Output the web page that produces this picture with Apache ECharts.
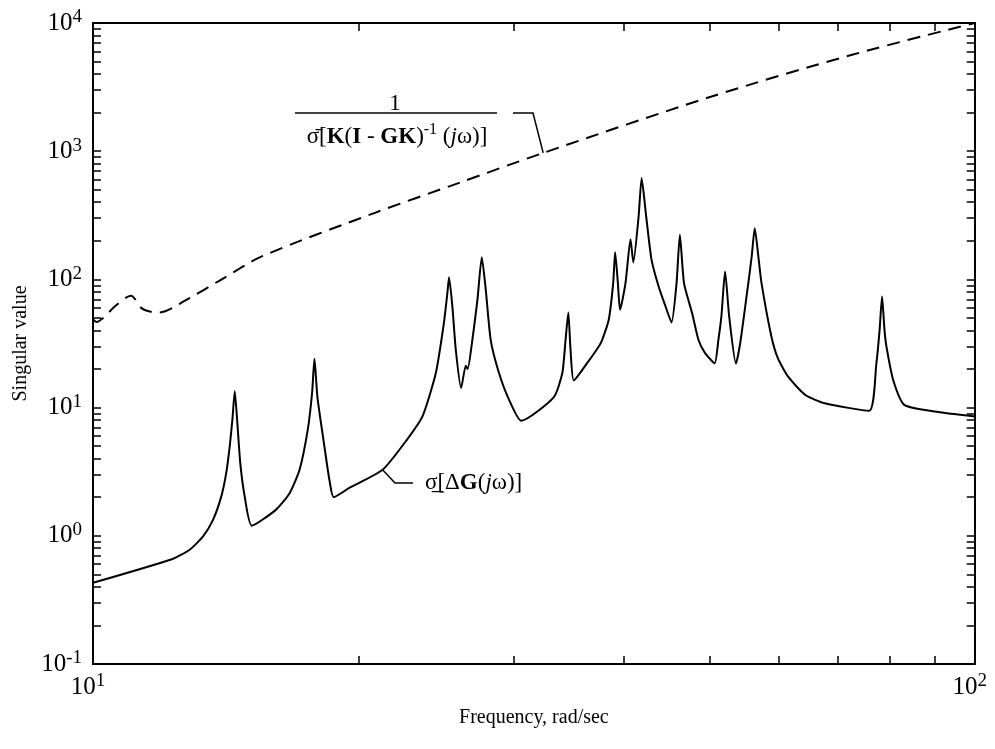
<!DOCTYPE html>
<html><head><meta charset="utf-8">
<script src="https://cdn.jsdelivr.net/npm/echarts@6/dist/echarts.min.js"></script>
<style>html,body{margin:0;padding:0;background:#fff}#c{width:995px;height:749px}</style>
</head><body><div id="c"></div>
<script>
// frequency (rad/sec) and singular value of lower solid curve
const solidFreq = [10, 12.31, 12.87, 13.33, 13.68, 13.98, 14.16, 14.29, 14.39, 14.48, 14.57, 14.69, 14.86, 15.14, 16.13, 16.71, 17.15, 17.52, 17.72, 17.83, 17.97, 18.3, 18.54, 18.75, 19.53, 21.3, 22.74, 23.64, 24.48, 25.0, 25.23, 25.34, 25.56, 25.79, 26.15, 26.47, 26.6, 26.93, 27.29, 27.6, 27.89, 28.25, 28.87, 29.64, 30.6, 33.3, 34.06, 34.35, 34.6, 34.8, 35.1, 36.3, 37.46, 37.8, 38.45, 38.9, 39.1, 39.38, 39.6, 40.17, 40.7, 41.0, 41.57, 41.9, 42.4, 43.0, 43.8, 44.6, 45.3, 45.9, 46.3, 46.8, 47.8, 48.6, 49.45, 50.7, 51.2, 51.6, 52.1, 52.66, 53.6, 54.2, 55.36, 55.85, 56.3, 56.83, 57.3, 58.8, 59.8, 61.4, 64.2, 67.6, 75.9, 77.35, 78.0, 78.5, 79.0, 79.4, 80.8, 83.2, 90.0, 100];
const solidVal  = [0.43, 0.66, 0.778, 0.99, 1.33, 2.03, 3.08, 4.97, 8.03, 13.4, 8.03, 3.69, 2.03, 1.20, 1.6, 2.15, 3.27, 6.7, 13, 24.0, 12, 4.97, 2.73, 2.0, 2.36, 3.27, 5.71, 8.53, 18.6, 45.6, 78.4, 104, 61.5, 28.2, 14.2, 21.2, 20.0, 33.8, 69.3, 149, 83, 33.8, 18.6, 11.5, 7.89, 12.0, 18.6, 33.8, 55.2, 28.2, 16.3, 22.0, 30.0, 33.8, 48.4, 93.6, 163, 93.6, 57.9, 93.6, 206, 135.6, 310, 617, 310, 142, 88, 61.5, 46.1, 93.6, 223, 93.6, 54.6, 33.8, 26.6, 22.2, 33.8, 51.4, 115, 51.4, 22.0, 31.8, 93.6, 151, 251, 151, 93.6, 35.9, 24.3, 17.5, 12.6, 10.8, 9.44, 22.2, 40.4, 73.6, 40.4, 30.0, 16.5, 10.5, 9.33, 8.53];
// upper dashed curve
const dashFreq = [10, 10.1, 10.25, 10.64, 11.04, 11.35, 11.6, 11.89, 12.76, 13.92, 15.54, 20.84, 25.97, 32.37, 50.3, 72.6, 100];
const dashVal  = [49, 46.5, 49.5, 63.4, 74.5, 59.7, 56.2, 55.2, 69.3, 98, 151, 329, 564, 967, 2672, 5650, 10000];
const xRange = [10, 100];
const yRange = [0.1, 10000];
const xLabelValues = [10, 100];
const yLabelValues = [0.1, 1, 10, 100, 1000, 10000];
const tickMultipliers = [1, 2, 3, 4, 5, 6, 7, 8, 9];

// tick positions at 1..9 x each decade
const decadeTicks = (decades, last) => {
  const out = [];
  decades.forEach(d => tickMultipliers.forEach(m => out.push(Number((m * d).toPrecision(3)))));
  out.push(last);
  return out;
};
const xTickValues = decadeTicks([10], 100);
const yTickValues = decadeTicks([0.1, 1, 10, 100, 1000], 10000);

const FONT = '"Liberation Serif","Times New Roman",serif';
const pairs = (a, b) => a.map((x, i) => [x, b[i]]);
const supLabel = v => '{b|10}{s|' + Math.round(Math.log10(v)) + '}';
const supLabelX = v => '{b|10}{s|' + Math.round(Math.log10(v)) + '}{p|}';
const rich = {
  b: {fontFamily: FONT, fontSize: 25, lineHeight: 30, color: '#000'},
  s: {fontFamily: FONT, fontSize: 19, lineHeight: 19, verticalAlign: 'top', color: '#000'},
  p: {width: 10}
};
function axis(extra, ticks) {
  return Object.assign({
    type: 'log', logBase: 10,
    axisLine: {show: true, lineStyle: {color: '#000', width: 2}},
    axisTick: {show: true, inside: true, length: 8, customValues: ticks, lineStyle: {color: '#000', width: 1.5}},
    minorTick: {show: false},
    splitLine: {show: false}, minorSplitLine: {show: false}
  }, extra);
}
const chart = echarts.init(document.getElementById('c'), null, {renderer: 'canvas'});
chart.setOption({
  animation: false,
  backgroundColor: '#fff',
  grid: {left: 93, right: 18, top: 23, bottom: 85, containLabel: false},
  xAxis: [
    axis({min: xRange[0], max: xRange[1], position: 'bottom',
      axisLabel: {formatter: supLabelX, rich: rich, margin: 8, customValues: xLabelValues},
      name: 'Frequency, rad/sec', nameLocation: 'middle', nameGap: 44,
      nameTextStyle: {fontFamily: FONT, fontSize: 20, color: '#000', verticalAlign: 'top'}}, xTickValues),
    axis({min: xRange[0], max: xRange[1], position: 'top', axisLabel: {show: false}}, xTickValues)
  ],
  yAxis: [
    axis({min: yRange[0], max: yRange[1], position: 'left',
      axisLabel: {formatter: supLabel, rich: rich, margin: 11, customValues: yLabelValues},
      name: 'Singular value', nameLocation: 'middle', nameGap: 60, nameRotate: 90,
      nameTextStyle: {fontFamily: FONT, fontSize: 20, color: '#000'}}, yTickValues),
    axis({min: yRange[0], max: yRange[1], position: 'right', axisLabel: {show: false}}, yTickValues)
  ],
  series: [
    {type: 'line', data: pairs(solidFreq, solidVal), symbol: 'none', smooth: 0.2,
     lineStyle: {color: '#000', width: 2}},
    {type: 'line', data: pairs(dashFreq, dashVal), symbol: 'none', smooth: 0.3,
     lineStyle: {color: '#000', width: 2, type: [13, 8]}}
  ]
});

// annotations
const dAnchor = chart.convertToPixel({xAxisIndex: 0, yAxisIndex: 0}, [32.4, 970]);
const sAnchor = chart.convertToPixel({xAxisIndex: 0, yAxisIndex: 0}, [21.3, 3.27]);
const dRich = {
  n: {fontFamily: FONT, fontSize: 23, lineHeight: 30, color: '#000'},
  b: {fontFamily: FONT, fontSize: 23, lineHeight: 30, fontWeight: 'bold', color: '#000'},
  i: {fontFamily: FONT, fontSize: 23, lineHeight: 30, fontStyle: 'italic', color: '#000'},
  s: {fontFamily: FONT, fontSize: 16, lineHeight: 18, verticalAlign: 'top', color: '#000'}
};
chart.setOption({
  graphic: [
    {type: 'text', style: {text: '1', x: 395, y: 104, align: 'center', verticalAlign: 'middle',
      font: '23px ' + FONT, fill: '#000'}},
    {type: 'line', shape: {x1: 295, y1: 113, x2: 497, y2: 113}, style: {stroke: '#000', lineWidth: 1.5}},
    {type: 'text', style: {text: '{n|\u03C3\u0304[}{b|K}{n|(}{b|I}{n| - }{b|GK}{n|)}{s|-1}{n| (}{i|j}{n|\u03C9)]}',
      x: 397, y: 137, align: 'center', verticalAlign: 'middle', rich: dRich}},
    {type: 'polyline', shape: {points: [[513, 113], [533, 113], [dAnchor[0], dAnchor[1]]]},
      style: {stroke: '#000', lineWidth: 1.5, fill: null}},
    {type: 'polyline', shape: {points: [[sAnchor[0], sAnchor[1]], [395, 483], [413, 483]]},
      style: {stroke: '#000', lineWidth: 1.5, fill: null}},
    {type: 'text', style: {text: '{n|\u03C3\u0332[\u0394}{b|G}{n|(}{i|j}{n|\u03C9)]}',
      x: 425, y: 483, align: 'left', verticalAlign: 'middle', rich: dRich}}
  ]
});
</script></body></html>
